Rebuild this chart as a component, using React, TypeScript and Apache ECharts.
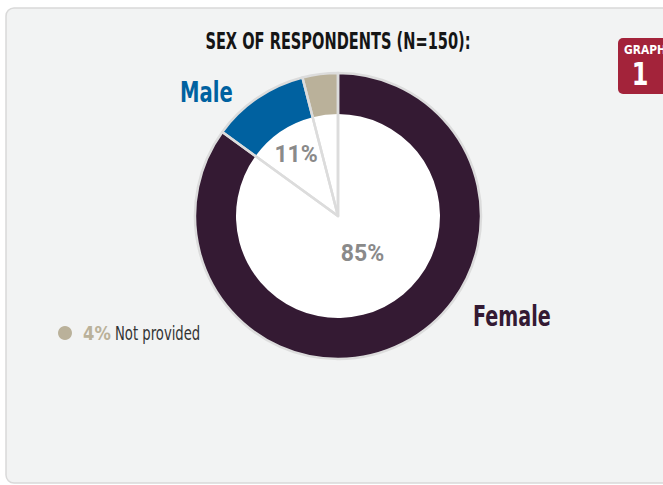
import React, { useEffect, useRef } from 'react';
import * as echarts from 'echarts';

const categories = ['Female', 'Male', 'Not provided'];
const values = [85, 11, 4];
const colors = ['#341a33', '#0061a0', '#bab19a'];
const titleText = 'SEX OF RESPONDENTS (N=150):';
const badgeTop = 'GRAPH';
const badgeNum = '1';

const FONT = "'DejaVu Sans', sans-serif";
const LFONT = "'Roboto', sans-serif";

export default function App() {
  const ref = useRef<HTMLDivElement>(null);
  useEffect(() => {
    const chart = echarts.init(ref.current!, null, { renderer: 'svg' });
    const data = categories.map((name, i) => ({ name, value: values[i] }));
    const center = [338, 216];
    const pctLabel = { color: '#8a8a8a', fontWeight: 'bold', fontSize: 23, fontFamily: LFONT };
    chart.setOption({
      animation: false,
      graphic: [
        {
          type: 'rect', z: -10,
          shape: { x: 6, y: 8, width: 700, height: 475, r: 8 },
          style: { fill: '#f2f3f3', stroke: '#d9d9d9', lineWidth: 1.5 },
        },
        {
          type: 'rect', z: -5,
          shape: { x: 618, y: 38, width: 60, height: 56, r: 5 },
          style: { fill: '#a3233a' },
        },
        {
          type: 'text', z: 10, x: 624, y: 50, scaleX: 0.82,
          style: { text: badgeTop, fill: '#fff', font: `bold 13px ${FONT}`, textAlign: 'left', textVerticalAlign: 'middle' },
        },
        {
          type: 'text', z: 10, x: 640, y: 74, scaleX: 0.75,
          style: { text: badgeNum, fill: '#fff', font: `bold 32px ${FONT}`, textAlign: 'center', textVerticalAlign: 'middle' },
        },
        {
          type: 'text', z: 10, x: 338, y: 41, scaleX: 0.635,
          style: { text: titleText, fill: '#151515', font: `bold 23px ${FONT}`, textAlign: 'center', textVerticalAlign: 'middle' },
        },
        {
          type: 'text', z: 10, x: 180, y: 93, scaleX: 0.70,
          style: { text: categories[1], fill: colors[1], font: `bold 28px ${FONT}`, textAlign: 'left', textVerticalAlign: 'middle' },
        },
        {
          type: 'text', z: 10, x: 473, y: 317, scaleX: 0.684,
          style: { text: categories[0], fill: colors[0], font: `bold 28px ${FONT}`, textAlign: 'left', textVerticalAlign: 'middle' },
        },
        {
          type: 'circle', z: 10,
          shape: { cx: 65, cy: 333, r: 7 },
          style: { fill: colors[2] },
        },
        {
          type: 'text', z: 10, x: 83, y: 333, scaleX: 0.82,
          style: { text: values[2] + '%', fill: colors[2], font: `bold 20px ${FONT}`, textAlign: 'left', textVerticalAlign: 'middle' },
        },
        {
          type: 'text', z: 10, x: 115, y: 333, scaleX: 0.66,
          style: { text: categories[2], fill: '#333', font: `20px ${FONT}`, textAlign: 'left', textVerticalAlign: 'middle' },
        },
      ],
      series: [
        {
          type: 'pie', radius: [0, 102], center, startAngle: 90, clockwise: true, silent: true,
          avoidLabelOverlap: false, labelLine: { show: false },
          itemStyle: { color: '#ffffff', borderWidth: 0 },
          label: { show: false },
          data: data.map((d, i) => ({
            ...d,
            label: i === 0
              ? {
                  show: true, position: 'inside',
                  formatter: (p: any) => `{v|${p.value}%}\n{s|}`,
                  rich: { v: { ...pctLabel, lineHeight: 26 }, s: { lineHeight: 22, fontSize: 1 } },
                }
              : { show: false },
          })),
        },
        {
          type: 'pie', radius: [102, 143], center, startAngle: 90, clockwise: true, silent: true,
          avoidLabelOverlap: false, labelLine: { show: false }, label: { show: false },
          data: data.map((d, i) => ({ ...d, itemStyle: { color: colors[i], borderWidth: 0 } })),
        },
        {
          type: 'pie', radius: [0, 143], center, startAngle: 90, clockwise: true, silent: true,
          avoidLabelOverlap: false, labelLine: { show: false },
          itemStyle: { color: 'rgba(0,0,0,0)', borderColor: '#dcdcdc', borderWidth: 2.5 },
          label: { show: false },
          data: data.map((d, i) => ({
            ...d,
            label: i === 1
              ? { show: true, position: 'inside', formatter: (p: any) => p.value + '%', ...pctLabel }
              : { show: false },
          })),
        },
      ],
    });
    return () => chart.dispose();
  }, []);
  return <div ref={ref} style={{ position: 'absolute', left: 0, top: 0, width: 663, height: 485 }} />;
}
